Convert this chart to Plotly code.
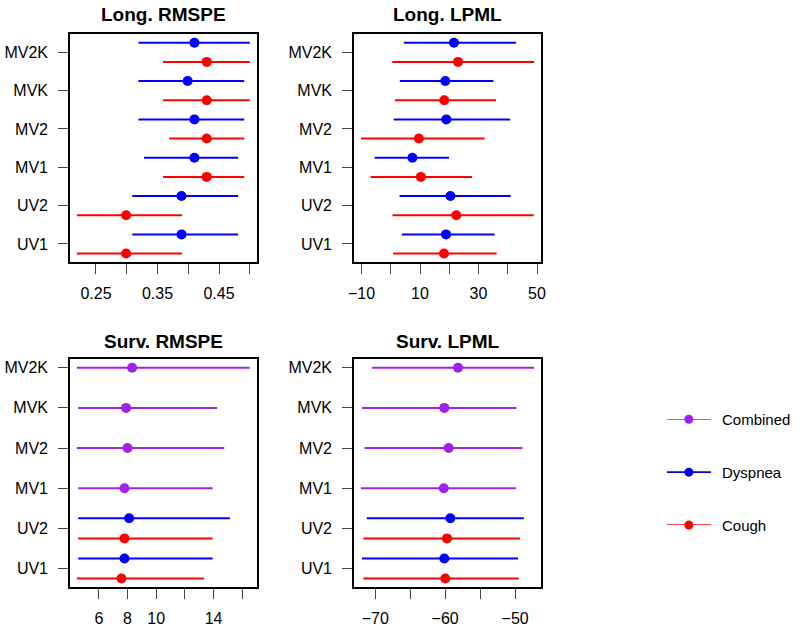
import plotly.graph_objects as go

categories = ["UV1", "UV2", "MV1", "MV2", "MVK", "MV2K"]
uv_categories = ["UV1", "UV2"]
mv_categories = ["MV1", "MV2", "MVK", "MV2K"]

# ---- Long. RMSPE (all 6 categories) ----
long_rmspe_cough_mid = [0.299, 0.299, 0.430, 0.430, 0.430, 0.430]
long_rmspe_cough_lo = [0.219, 0.219, 0.359, 0.369, 0.359, 0.359]
long_rmspe_cough_hi = [0.390, 0.390, 0.491, 0.491, 0.500, 0.500]
long_rmspe_dysp_mid = [0.389, 0.389, 0.410, 0.410, 0.399, 0.410]
long_rmspe_dysp_lo = [0.309, 0.309, 0.328, 0.319, 0.319, 0.319]
long_rmspe_dysp_hi = [0.481, 0.481, 0.481, 0.491, 0.491, 0.500]

# ---- Long. LPML (all 6 categories) ----
long_lpml_cough_mid = [18.2, 22.4, 10.3, 9.6, 18.3, 23.0]
long_lpml_cough_lo = [0.8, 0.6, -6.9, -10.2, 1.4, 0.5]
long_lpml_cough_hi = [36.2, 48.9, 27.8, 32.1, 36.0, 49.0]
long_lpml_dysp_mid = [18.9, 20.4, 7.4, 19.0, 18.65, 21.6]
long_lpml_dysp_lo = [3.8, 3.0, -5.5, 1.0, 3.1, 4.5]
long_lpml_dysp_hi = [35.5, 41.0, 19.9, 40.8, 35.1, 42.8]

# ---- Surv. RMSPE ----
surv_rmspe_cough_mid = [7.58, 7.79]
surv_rmspe_cough_lo = [4.47, 4.56]
surv_rmspe_cough_hi = [13.33, 13.94]
surv_rmspe_dysp_mid = [7.79, 8.11]
surv_rmspe_dysp_lo = [4.56, 4.56]
surv_rmspe_dysp_hi = [13.94, 15.14]
surv_rmspe_comb_mid = [7.79, 8.00, 7.90, 8.32]
surv_rmspe_comb_lo = [4.56, 4.47, 4.56, 4.47]
surv_rmspe_comb_hi = [13.94, 14.75, 14.26, 16.53]

# ---- Surv. LPML ----
surv_lpml_cough_mid = [-59.98, -59.74]
surv_lpml_cough_lo = [-71.7, -71.7]
surv_lpml_cough_hi = [-49.48, -49.30]
surv_lpml_dysp_mid = [-60.12, -59.26]
surv_lpml_dysp_lo = [-71.9, -71.2]
surv_lpml_dysp_hi = [-49.57, -48.76]
surv_lpml_comb_mid = [-60.20, -59.50, -60.12, -58.17]
surv_lpml_comb_lo = [-72.04, -71.5, -71.9, -70.43]
surv_lpml_comb_hi = [-49.90, -48.95, -49.80, -47.29]

# tick values / labels
rmspe_long_ticks = [0.25, 0.30, 0.35, 0.40, 0.45, 0.50]
rmspe_long_labels = ["0.25", "", "0.35", "", "0.45", ""]
lpml_long_ticks = [-10, 0, 10, 20, 30, 40, 50]
lpml_long_labels = ["\u221210", "", "10", "", "30", "", "50"]
rmspe_surv_ticks = [6, 8, 10, 12, 14, 16]
rmspe_surv_labels = ["6", "8", "10", "", "14", ""]
lpml_surv_ticks = [-70, -65, -60, -55, -50]
lpml_surv_labels = ["\u221270", "", "\u221260", "", "\u221250"]

panel_titles = ["Long. RMSPE", "Long. LPML", "Surv. RMSPE", "Surv. LPML"]
legend_labels = ["Cough", "Dyspnea", "Combined"]

RED = "#FF0000"
BLUE = "#0000FF"
PURPLE = "#A020F0"
legend_colors = [RED, BLUE, PURPLE]
FONT = "Liberation Sans, Arial, sans-serif"

cat_index = {c: i + 1 for i, c in enumerate(categories)}

fig = go.Figure()


def add_series(cats, mid, lo, hi, offset, color, axis_n):
    ys = [cat_index[c] + offset for c in cats]
    fig.add_trace(go.Scatter(
        x=mid, y=ys, mode="markers",
        marker=dict(color=color, size=10, line=dict(width=0)),
        error_x=dict(type="data", symmetric=False,
                     array=[h - m for h, m in zip(hi, mid)],
                     arrayminus=[m - l for m, l in zip(mid, lo)],
                     width=0, thickness=2, color=color),
        xaxis="x" if axis_n == 1 else f"x{axis_n}",
        yaxis="y" if axis_n == 1 else f"y{axis_n}",
        showlegend=False, hoverinfo="skip", cliponaxis=False,
    ))


add_series(categories, long_rmspe_dysp_mid, long_rmspe_dysp_lo, long_rmspe_dysp_hi, 0.25, BLUE, 1)
add_series(categories, long_rmspe_cough_mid, long_rmspe_cough_lo, long_rmspe_cough_hi, -0.25, RED, 1)
add_series(categories, long_lpml_dysp_mid, long_lpml_dysp_lo, long_lpml_dysp_hi, 0.25, BLUE, 2)
add_series(categories, long_lpml_cough_mid, long_lpml_cough_lo, long_lpml_cough_hi, -0.25, RED, 2)
add_series(uv_categories, surv_rmspe_dysp_mid, surv_rmspe_dysp_lo, surv_rmspe_dysp_hi, 0.25, BLUE, 3)
add_series(uv_categories, surv_rmspe_cough_mid, surv_rmspe_cough_lo, surv_rmspe_cough_hi, -0.25, RED, 3)
add_series(mv_categories, surv_rmspe_comb_mid, surv_rmspe_comb_lo, surv_rmspe_comb_hi, 0.0, PURPLE, 3)
add_series(uv_categories, surv_lpml_dysp_mid, surv_lpml_dysp_lo, surv_lpml_dysp_hi, 0.25, BLUE, 4)
add_series(uv_categories, surv_lpml_cough_mid, surv_lpml_cough_lo, surv_lpml_cough_hi, -0.25, RED, 4)
add_series(mv_categories, surv_lpml_comb_mid, surv_lpml_comb_lo, surv_lpml_comb_hi, 0.0, PURPLE, 4)


def r_range(lo, hi):
    ext = (hi - lo) * 0.04
    return [lo - ext, hi + ext]


W, H = 800, 631
xdom_left = [70 / W, 256.7 / W]
xdom_right = [354 / W, 541 / W]
ydom_top = [1 - 262 / H, 1 - 34.3 / H]
ydom_bot = [1 - 587 / H, 1 - 359.3 / H]

x_ranges = [
    r_range(min(long_rmspe_cough_lo + long_rmspe_dysp_lo), max(long_rmspe_cough_hi + long_rmspe_dysp_hi)),
    r_range(min(long_lpml_cough_lo + long_lpml_dysp_lo), max(long_lpml_cough_hi + long_lpml_dysp_hi)),
    r_range(min(surv_rmspe_cough_lo + surv_rmspe_dysp_lo + surv_rmspe_comb_lo),
            max(surv_rmspe_cough_hi + surv_rmspe_dysp_hi + surv_rmspe_comb_hi)),
    r_range(min(surv_lpml_cough_lo + surv_lpml_dysp_lo + surv_lpml_comb_lo),
            max(surv_lpml_cough_hi + surv_lpml_dysp_hi + surv_lpml_comb_hi)),
]
y_ranges = [r_range(0.75, 6.25), r_range(0.75, 6.25), r_range(0.75, 6.0), r_range(0.75, 6.0)]
x_ticks = [(rmspe_long_ticks, rmspe_long_labels), (lpml_long_ticks, lpml_long_labels),
           (rmspe_surv_ticks, rmspe_surv_labels), (lpml_surv_ticks, lpml_surv_labels)]
x_doms = [xdom_left, xdom_right, xdom_left, xdom_right]
y_doms = [ydom_top, ydom_top, ydom_bot, ydom_bot]

layout = dict(
    width=W, height=H, margin=dict(l=0, r=0, t=0, b=0),
    paper_bgcolor="white", plot_bgcolor="white",
    font=dict(family=FONT, size=16, color="black"),
    showlegend=False,
)

common_axis = dict(showline=True, mirror=True, linecolor="black", linewidth=1.6,
                   ticks="outside", ticklen=10, tickwidth=1, tickcolor="#444",
                   showgrid=False, zeroline=False, fixedrange=True, automargin=False,
                   tickfont=dict(family=FONT, size=16, color="black"))

annotations = []
for i in range(4):
    n = i + 1
    xk = "xaxis" if n == 1 else f"xaxis{n}"
    yk = "yaxis" if n == 1 else f"yaxis{n}"
    tv, tt = x_ticks[i]
    layout[xk] = dict(common_axis, domain=x_doms[i], range=x_ranges[i],
                      tickmode="array", tickvals=tv, ticktext=tt,
                      anchor="y" if n == 1 else f"y{n}", ticklabelstandoff=6)
    layout[yk] = dict(common_axis, domain=y_doms[i], range=y_ranges[i],
                      tickmode="array", tickvals=[cat_index[c] for c in categories],
                      ticktext=categories,
                      anchor="x" if n == 1 else f"x{n}", ticklabelstandoff=7)
    cx = (x_doms[i][0] + x_doms[i][1]) / 2
    ty = (1 - 14.7 / H) if i < 2 else (1 - 341 / H)
    annotations.append(dict(text=f"<b>{panel_titles[i]}</b>", x=cx, y=ty,
                            xref="paper", yref="paper", xanchor="center", yanchor="middle",
                            showarrow=False, font=dict(family=FONT, size=19, color="black")))

# legend drawn on a hidden axis
layout["xaxis5"] = dict(domain=[666.7 / W, 711 / W], range=[0, 1], visible=False, fixedrange=True, anchor="y5")
layout["yaxis5"] = dict(domain=[1 - 525 / H, 1 - 419.3 / H], range=[0, len(legend_labels) - 1],
                        visible=False, fixedrange=True, anchor="x5")
for k, (lab, col) in enumerate(zip(legend_labels, legend_colors)):
    fig.add_trace(go.Scatter(x=[0, 1], y=[k, k], mode="lines", line=dict(color=col, width=1.6),
                             xaxis="x5", yaxis="y5", showlegend=False, hoverinfo="skip", cliponaxis=False))
    fig.add_trace(go.Scatter(x=[0.5], y=[k], mode="markers", marker=dict(color=col, size=9),
                             xaxis="x5", yaxis="y5", showlegend=False, hoverinfo="skip", cliponaxis=False))
    annotations.append(dict(text=lab, x=1, y=k, xref="x5", yref="y5", xanchor="left", yanchor="middle",
                            xshift=9, showarrow=False, font=dict(family=FONT, size=15, color="black")))

layout["annotations"] = annotations
fig.update_layout(**layout)
fig.write_html("out.html", config={"displayModeBar": False},
               post_script="document.body.style.margin='0px';document.body.style.overflow='hidden';")
